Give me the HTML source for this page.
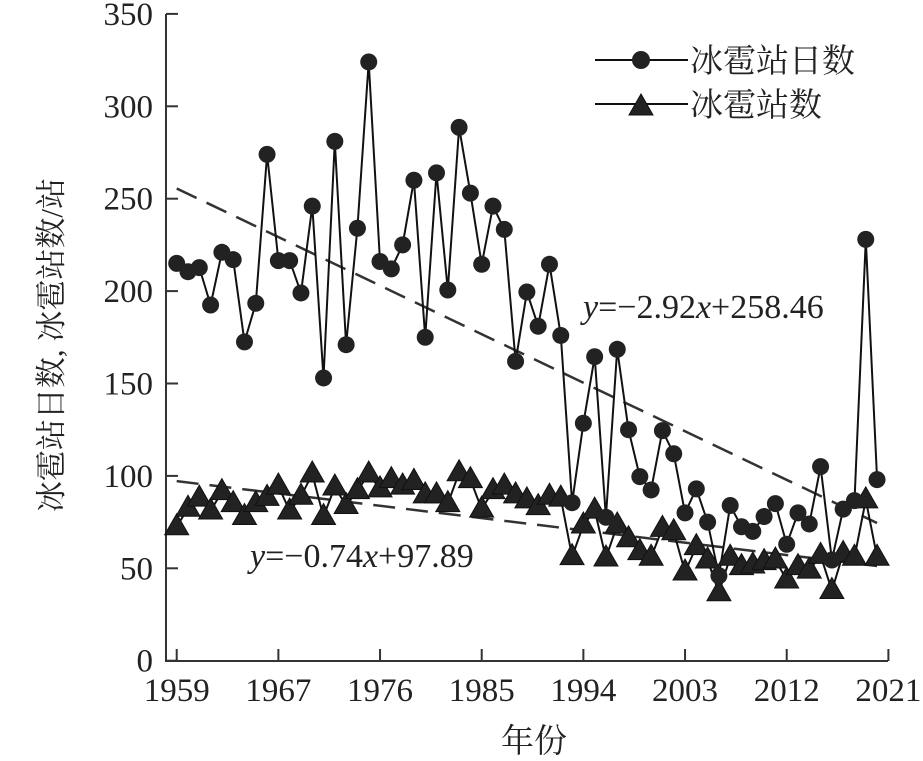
<!DOCTYPE html>
<html><head><meta charset="utf-8"><style>
html,body{margin:0;padding:0;background:#fff;}
svg{display:block;font-family:"Liberation Serif","Noto Serif CJK SC",serif;}
</style></head><body>
<svg id="s" width="923" height="761" viewBox="0 0 923 761" xmlns="http://www.w3.org/2000/svg">
<g stroke="#333" stroke-width="2" fill="none">
<line x1="166" y1="14" x2="166" y2="661"/>
<line x1="165" y1="661" x2="888" y2="661"/>
</g>
<g id="ax"></g>
<g font-size="33" fill="#222" text-anchor="end" id="yl"></g>
<g font-size="33" fill="#222" text-anchor="middle" id="xl"></g>
<g id="data"></g>
<text x="534" y="752" font-size="33" text-anchor="middle" fill="#222">年份</text>
<text transform="translate(62,345) rotate(-90)" font-size="31" text-anchor="middle" fill="#222">冰雹站日数, 冰雹站数/站</text>
<text x="583" y="318" font-size="34" fill="#222"><tspan font-style="italic">y</tspan>=−2.92<tspan font-style="italic">x</tspan>+258.46</text>
<text x="250" y="567" font-size="34" fill="#222"><tspan font-style="italic">y</tspan>=−0.74<tspan font-style="italic">x</tspan>+97.89</text>
<g stroke="#111" stroke-width="2">
<line x1="595" y1="60" x2="688" y2="60"/>
<line x1="595" y1="104" x2="688" y2="104"/>
</g>
<circle cx="641" cy="60" r="9" fill="#222"/>
<polygon points="629,115 653,115 641,94" fill="#222" stroke="#111" stroke-width="1"/>
<text x="690" y="72" font-size="33" fill="#222">冰雹站日数</text>
<text x="690" y="116" font-size="33" fill="#222">冰雹站数</text>
</svg>
<script>
var NS="http://www.w3.org/2000/svg";
function el(p,t,a,txt){var e=document.createElementNS(NS,t);for(var k in a)e.setAttribute(k,a[k]);if(txt!=null)e.textContent=txt;p.appendChild(e);return e;}
var X0=176.7,DX=11.296,Y0=660.7,K=1.848;
function px(i){return X0+i*DX;} function py(v){return Y0-v*K;}
var ax=document.getElementById('ax'),yl=document.getElementById('yl'),xl=document.getElementById('xl');
for(var v=0;v<=350;v+=50){var y=py(v);el(ax,'line',{x1:166,y1:y,x2:178,y2:y,stroke:'#333','stroke-width':2});el(yl,'text',{x:153,y:y+11},String(v));}
var lab=['1959','1967','1976','1985','1994','2003','2012','2021'];
for(var j=0;j<8;j++){var x=176.7+j*101.67;el(ax,'line',{x1:x,y1:661,x2:x,y2:649,stroke:'#333','stroke-width':2});el(xl,'text',{x:x,y:701},lab[j]);}
var c=[215,210.5,212.7,192.5,221,217,172.5,193.4,274,216.5,216.5,199,246,153,281,171,234,324,216,212,225,260,175,264,200.6,288.6,253,214.5,246,233.4,162,199.5,181,214.5,176,85.5,128.5,164.5,77.6,168.5,125,99.6,92.4,124.5,112,80,93,75,46,84,72.5,70,78,85,63,80,74,105,54.5,82,86.6,228,98];
var t=[72.5,82.5,88,81,91.5,85,78,85,88.4,94.5,81,89,101,78,94,84,92,101,93,98,94.5,97,89.7,89.7,85,101.7,98,82,92,94.5,89.7,87,83.4,89,88,56.3,73.4,81.5,55.6,73.4,66,59,56,71.6,69.8,48,61.7,54.5,36.8,56,50.9,51.8,53.6,54.5,43.7,50.9,49,57,38,58,56,87,56];
var d=document.getElementById('data');
function tl(a,b){el(d,'line',{x1:px(0),y1:py(a*1+b),x2:px(62),y2:py(a*63+b),stroke:'#333','stroke-width':2.5,'stroke-dasharray':'22 11'});}
tl(-2.92,258.46);tl(-0.74,97.89);
function pl(arr){var s='';for(var i=0;i<arr.length;i++)s+=px(i).toFixed(1)+','+py(arr[i]).toFixed(1)+' ';el(d,'polyline',{points:s,fill:'none',stroke:'#111','stroke-width':2});}
pl(t);pl(c);
for(var i=0;i<t.length;i++){var x=px(i),y=py(t[i]);el(d,'polygon',{points:(x-12)+','+(y+8)+' '+(x+12)+','+(y+8)+' '+x+','+(y-13),fill:'#222',stroke:'#111','stroke-width':1});}
for(var i=0;i<c.length;i++){el(d,'circle',{cx:px(i),cy:py(c[i]),r:8.5,fill:'#222'});}
</script>
</body></html>
